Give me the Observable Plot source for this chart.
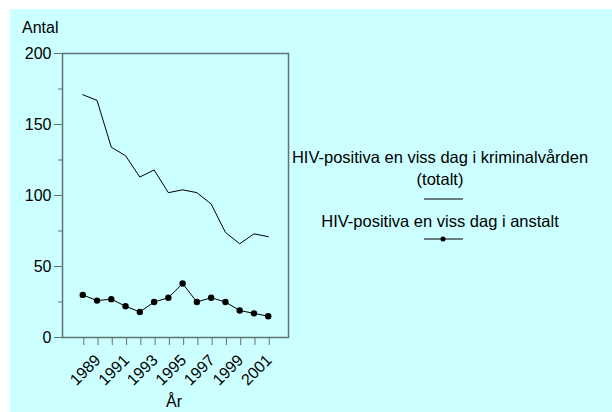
<!DOCTYPE html>
<html><head><meta charset="utf-8">
<script src="https://cdn.jsdelivr.net/npm/d3@7"></script>
<script src="https://cdn.jsdelivr.net/npm/@observablehq/plot@0.6"></script>
<style>
body{margin:0;background:#fff;font-family:Arial,"Liberation Sans",sans-serif;}
#wrap{position:relative;width:612px;height:412px;overflow:hidden;}
#panel{position:absolute;left:10px;top:9px;width:602px;height:403px;background:#ccffff;}
#chart{position:absolute;left:0;top:0;}
.lbl{position:absolute;font-size:16px;color:#000;white-space:nowrap;}
</style></head>
<body>
<div id="wrap"><div id="panel"></div><div id="chart"></div>
<div class="lbl" style="left:22px;top:19px;">Antal</div>
<div class="lbl" style="left:166px;top:393px;">År</div>
<div id="legend"></div>
</div>
<script>
const years = [1988,1989,1990,1991,1992,1993,1994,1995,1996,1997,1998,1999,2000,2001];
const totalt = [171,167,134,128,113,118,102,104,102,94,74,66,73,71];
const anstalt = [30,26,27,22,18,25,28,38,25,28,25,19,17,15];
const seriesNames = ["HIV-positiva en viss dag i kriminalvården (totalt)","HIV-positiva en viss dag i anstalt"];
const yMajor = [0,50,100,150,200];
const yMinor = [25,75,125,175];

const dTot = years.map((y,i)=>({year:y,value:totalt[i]}));
const dAns = years.map((y,i)=>({year:y,value:anstalt[i]}));
const axisColor = "#607272";

const plot = Plot.plot({
  width:612, height:412,
  marginLeft:62, marginRight:324, marginTop:53, marginBottom:75,
  style:{background:"transparent", fontFamily:"Arial, 'Liberation Sans', sans-serif", fontSize:"16px", color:"#000"},
  x:{domain:[1986.58,2002.42]},
  y:{domain:[0,200]},
  marks:[
    Plot.axisY({ticks:yMajor, tickSize:8, tickPadding:3, label:null, stroke:axisColor, fill:"#000", fontSize:16}),
    Plot.axisY({ticks:yMinor, tickSize:4, tickFormat:()=>"", label:null, stroke:axisColor}),
    Plot.axisX({ticks:years, tickSize:8, tickPadding:12, tickRotate:-45, tickFormat:d=>d%2?String(d):"", label:null, stroke:axisColor, fill:"#000", fontSize:16, dx:1}),
    Plot.frame({stroke:axisColor, strokeWidth:1.5}),
    Plot.line(dTot,{x:"year",y:"value",stroke:"#000",strokeWidth:1}),
    Plot.line(dAns,{x:"year",y:"value",stroke:"#000",strokeWidth:1}),
    Plot.dot(dAns,{x:"year",y:"value",fill:"#000",r:3.2})
  ]
});
document.getElementById("chart").append(plot);

const legend = document.getElementById("legend");
legend.innerHTML = `
<div class="lbl" style="left:290px;top:146px;width:300px;text-align:center;white-space:normal;line-height:22px;font-size:16.5px;">${seriesNames[0].replace(" (totalt)","<br>(totalt)")}</div>
<svg style="position:absolute;left:420px;top:192px;" width="48" height="14"><line x1="4" x2="43" y1="7" y2="7" stroke="#000" stroke-width="1"/></svg>
<div class="lbl" style="left:290px;top:212px;width:300px;text-align:center;font-size:16.5px;">${seriesNames[1]}</div>
<svg style="position:absolute;left:420px;top:232px;" width="48" height="14"><line x1="4" x2="43" y1="7" y2="7" stroke="#000" stroke-width="1"/><circle cx="23" cy="7" r="2.5" fill="#000"/></svg>
`;
</script>
</body></html>
